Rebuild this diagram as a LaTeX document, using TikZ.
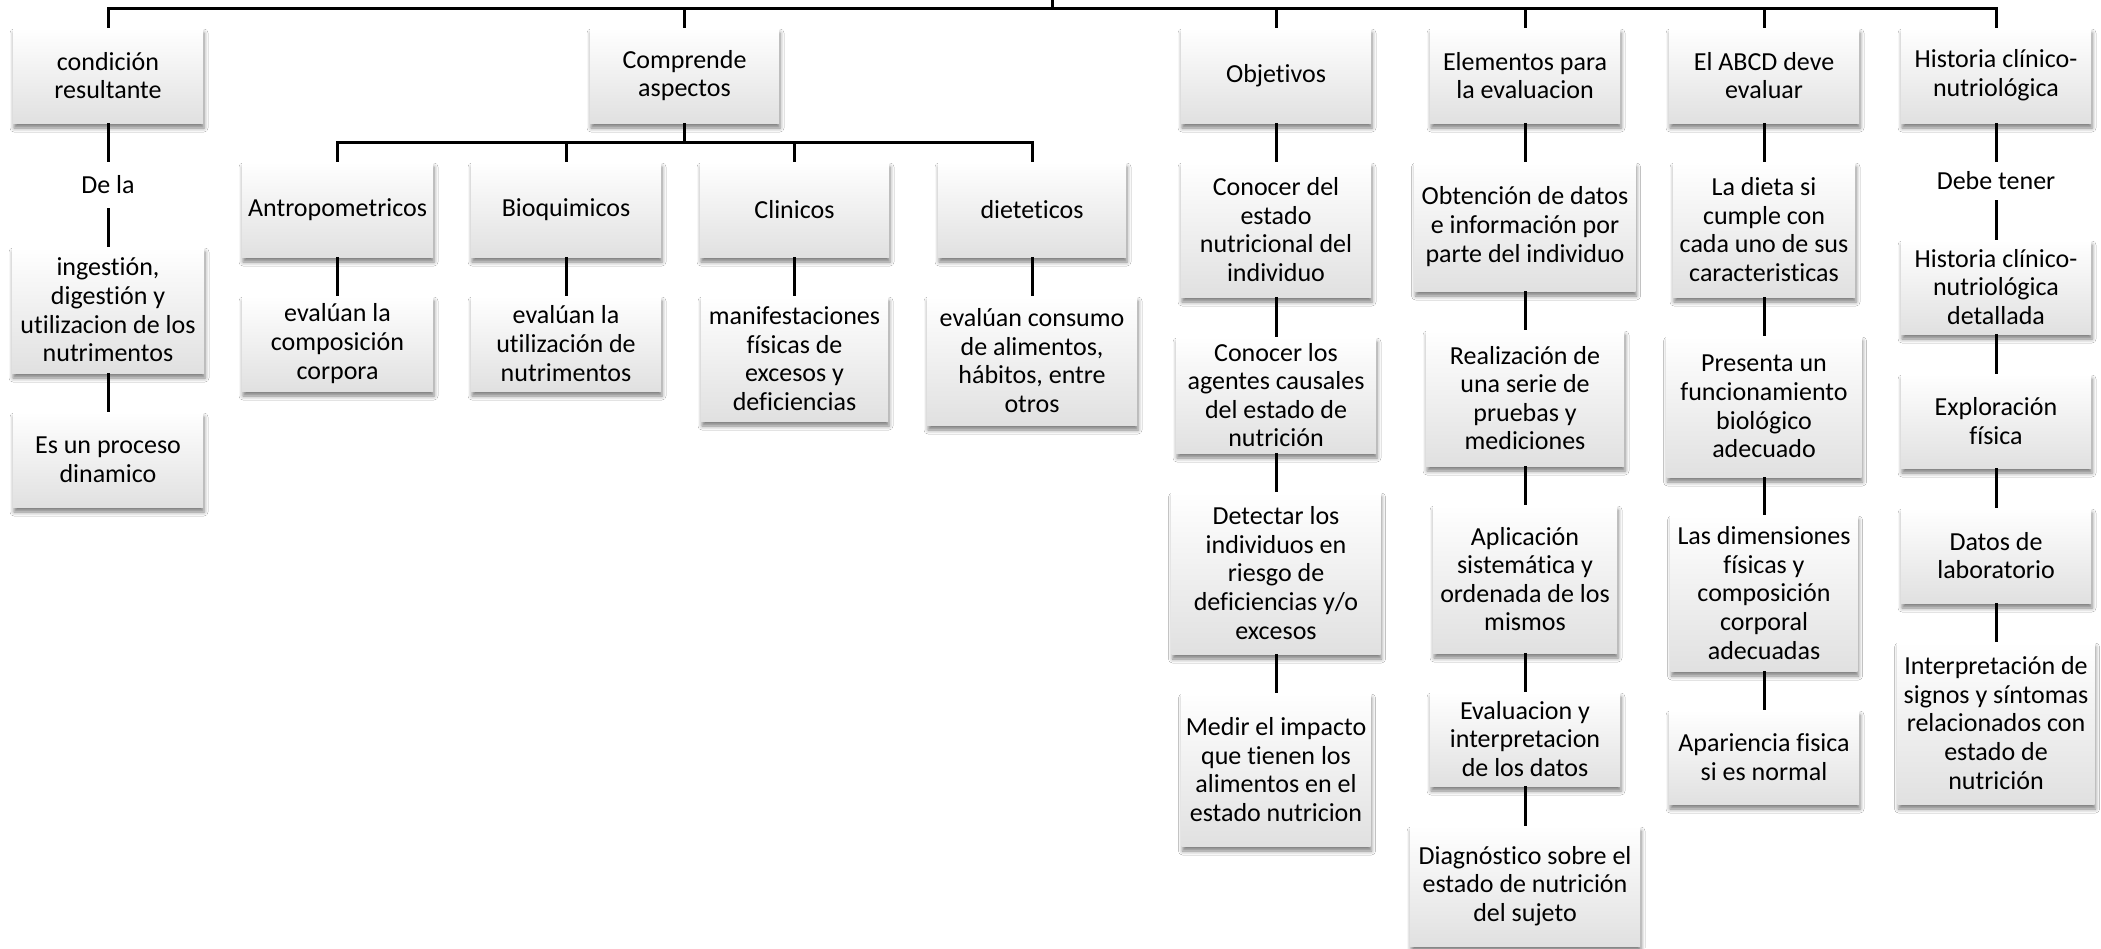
\documentclass[tikz,border=0pt]{standalone}
\usepackage{fontspec}
\setmainfont{Carlito}[Ligatures=CommonOff]
\usetikzlibrary{shadows.blur}
\tikzset{
  box/.style={rectangle, top color=white, bottom color=black!12,
    blur shadow={shadow xshift=1pt, shadow yshift=-5pt, shadow blur radius=4pt, shadow opacity=50},
    align=center, inner sep=1pt, text=black, font=\fontsize{26}{28.6}\selectfont},
  B/.style 2 args={box, minimum width=#1pt, minimum height=#2pt},
  lbl/.style={align=center, inner sep=0pt, text=black, font=\fontsize{26}{28.6}\selectfont},
  conn/.style={draw=black, line width=3pt},
}
\begin{document}
\begin{tikzpicture}[x=1pt, y=-1pt]
\useasboundingbox (0,0) rectangle (2101,948);
\fill[white] (0,0) rectangle (2101,948);

% column 1
\node[B={190}{95}] (cond) at (108,75.5) {condición\\resultante};
\node[lbl, minimum height=46pt] (dela) at (108,185) {De la};
\node[B={192}{126}] (ing) at (108,310) {ingestión,\\digestión y\\utilizacion de los\\nutrimentos};
\node[B={190}{95}] (proc) at (108,459.5) {Es un proceso\\dinamico};

% column 2
\node[B={189}{95}] (comp) at (684.5,75.5) {Comprende\\aspectos};
\node[B={191}{95}] (antro) at (337.5,209.5) {Antropometricos};
\node[B={190}{95}] (bioq) at (566,209.5) {Bioquimicos};
\node[B={189}{95}] (clin) at (794.5,209.5) {Clinicos};
\node[B={188}{95}] (diet) at (1032,209.5) {dieteticos};
\node[B={191}{95}] (evA) at (337.5,343.5) {evalúan la\\composición\\corpora};
\node[B={190}{95}] (evB) at (566,343.5) {evalúan la\\utilización de\\nutrimentos};
\node[B={187}{125}] (manif) at (794.5,358.5) {manifestaciones\\físicas de\\excesos y\\deficiencias};
\node[B={210}{129}] (evD) at (1032,360.5) {evalúan consumo\\de alimentos,\\hábitos, entre\\otros};

% column 3
\node[B={190}{95}] (obj) at (1276,75.5) {Objetivos};
\node[B={190}{135}] (con1) at (1276,229.5) {Conocer del\\estado\\nutricional del\\individuo};
\node[B={200}{116}] (con2) at (1276,395) {Conocer los\\agentes causales\\del estado de\\nutrición};
\node[B={209}{162}] (det) at (1276,573) {Detectar los\\individuos en\\riesgo de\\deficiencias y/o\\excesos};
\node[B={189}{153}] (med) at (1276,769.5) {Medir el impacto\\que tienen los\\alimentos en el\\estado nutricion};

% column 4
\node[B={190}{95}] (elem) at (1525,75.5) {Elementos para\\la evaluacion};
\node[B={221}{129}] (obt) at (1525,226.5) {Obtención de datos\\e información por\\parte del individuo};
\node[B={198}{136}] (real) at (1525,398) {Realización de\\una serie de\\pruebas y\\mediciones};
\node[B={184}{148}] (apl) at (1525,579) {Aplicación\\sistemática y\\ordenada de los\\mismos};
\node[B={190}{94}] (evl) at (1525,739) {Evaluacion y\\interpretacion\\de los datos};
\node[B={230}{120}] (diag) at (1525,886) {Diagnóstico sobre el\\estado de nutrición\\del sujeto};

% column 5
\node[B={190}{95}] (abcd) at (1764,75.5) {El ABCD deve\\evaluar};
\node[B={182}{135}] (dieta) at (1764,229.5) {La dieta si\\cumple con\\cada uno de sus\\caracteristicas};
\node[B={195}{141}] (pres) at (1764,406.5) {Presenta un\\funcionamiento\\biológico\\adecuado};
\node[B={187}{156}] (dim) at (1764,593) {Las dimensiones\\físicas y\\composición\\corporal\\adecuadas};
\node[B={190}{94}] (apar) at (1764,757) {Apariencia fisica\\si es normal};

% column 6
\node[B={190}{95}] (hist) at (1996,75.5) {Historia clínico-\\nutriológica};
\node[lbl, minimum height=38pt] (debe) at (1996,181) {Debe tener};
\node[B={190}{94}] (hdet) at (1996,287) {Historia clínico-\\nutriológica\\detallada};
\node[B={190}{94}] (expl) at (1996,421) {Exploración\\física};
\node[B={190}{95}] (datos) at (1996,555.5) {Datos de\\laboratorio};
\node[B={197}{162}] (interp) at (1996,723) {Interpretación de\\signos y síntomas\\relacionados con\\estado de\\nutrición};

% connectors
\coordinate (root) at (1052,0);
\coordinate (bus) at (1052,8);
\coordinate (cbus) at (684.5,142);
\draw[conn] (root) -- (bus);
\foreach \n in {cond,comp,obj,elem,abcd,hist} \draw[conn] (bus) -| (\n.north);
\draw[conn] (comp) -- (cbus);
\foreach \n in {antro,bioq,clin,diet} \draw[conn] (cbus) -| (\n.north);
\draw[conn] (cond) -- (dela);
\draw[conn] (dela) -- (ing);
\draw[conn] (ing) -- (proc);
\draw[conn] (antro) -- (evA);
\draw[conn] (bioq) -- (evB);
\draw[conn] (clin) -- (manif);
\draw[conn] (diet) -- (evD);
\draw[conn] (obj) -- (con1);
\draw[conn] (con1) -- (con2);
\draw[conn] (con2) -- (det);
\draw[conn] (det) -- (med);
\draw[conn] (elem) -- (obt);
\draw[conn] (obt) -- (real);
\draw[conn] (real) -- (apl);
\draw[conn] (apl) -- (evl);
\draw[conn] (evl) -- (diag);
\draw[conn] (abcd) -- (dieta);
\draw[conn] (dieta) -- (pres);
\draw[conn] (pres) -- (dim);
\draw[conn] (dim) -- (apar);
\draw[conn] (hist) -- (debe);
\draw[conn] (debe) -- (hdet);
\draw[conn] (hdet) -- (expl);
\draw[conn] (expl) -- (datos);
\draw[conn] (datos) -- (interp);
\end{tikzpicture}
\end{document}
